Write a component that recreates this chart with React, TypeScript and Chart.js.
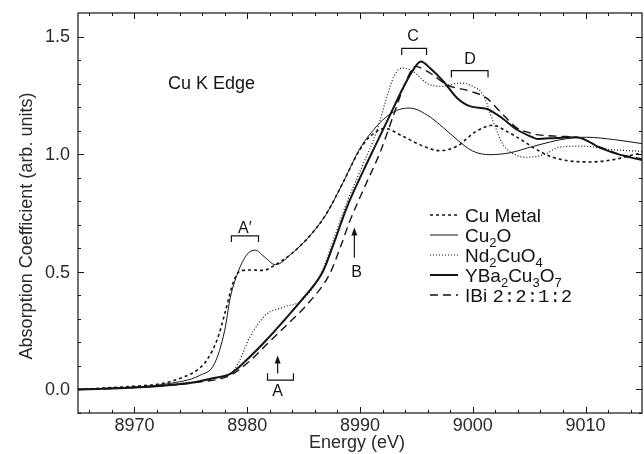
import React, { useEffect, useRef } from "react";
import { Chart, registerables } from "chart.js";

Chart.register(...registerables);

// ---------------- data ----------------
const CU_METAL_E = [8965, 8968, 8970, 8972.3, 8974.3, 8975.5, 8976.4, 8977.4, 8978.0, 8978.8, 8979.4, 8980.3, 8981.4, 8982.5, 8984.0, 8985.5, 8987.0, 8988.5, 8990.0, 8991.0, 8992.2, 8993.8, 8995.6, 8997.1, 8998.6, 9000.3, 9001.8, 9003.0, 9004.5, 9005.4, 9006.8, 9008.3, 9010.4, 9012.5, 9014.3, 9015];
const CU_METAL_V = [0.0, 0.008, 0.014, 0.024, 0.052, 0.08, 0.123, 0.22, 0.32, 0.46, 0.504, 0.508, 0.506, 0.53, 0.58, 0.65, 0.745, 0.88, 1.02, 1.08, 1.109, 1.076, 1.034, 1.015, 1.034, 1.097, 1.123, 1.097, 1.055, 1.027, 0.992, 0.973, 0.967, 0.977, 0.998, 1.005];

const CU2O_E = [8965, 8968, 8970, 8972.9, 8975.8, 8977.1, 8978.0, 8978.5, 8979.2, 8980.0, 8980.7, 8981.5, 8982.5, 8984.0, 8985.5, 8987.0, 8988.5, 8990.0, 8991.5, 8992.5, 8993.5, 8994.4, 8995.9, 8997.4, 8998.6, 9000.0, 9001.5, 9003.3, 9005.4, 9008.3, 9010.1, 9012.5, 9015];
const CU2O_V = [0.0, 0.006, 0.01, 0.024, 0.06, 0.11, 0.25, 0.39, 0.5, 0.575, 0.592, 0.565, 0.53, 0.58, 0.65, 0.745, 0.88, 1.025, 1.12, 1.165, 1.19, 1.196, 1.168, 1.112, 1.062, 1.013, 0.998, 1.006, 1.034, 1.066, 1.072, 1.062, 1.045];

const ND2CUO4_E = [8965, 8968, 8970, 8973, 8975.5, 8977, 8978.5, 8979.3, 8980.2, 8981.0, 8981.7, 8983.2, 8985.0, 8986.7, 8987.6, 8988.8, 8990.3, 8991.5, 8992.3, 8993.0, 8993.7, 8994.7, 8995.9, 8997.1, 8998.9, 9000.0, 9000.9, 9001.8, 9002.7, 9003.9, 9004.8, 9006.3, 9007.7, 9009.8, 9012.2, 9015];
const ND2CUO4_V = [0.0, 0.005, 0.01, 0.02, 0.035, 0.05, 0.066, 0.12, 0.22, 0.28, 0.32, 0.35, 0.384, 0.51, 0.63, 0.79, 0.96, 1.1, 1.23, 1.33, 1.366, 1.352, 1.302, 1.288, 1.302, 1.288, 1.253, 1.14, 1.04, 0.995, 0.987, 0.998, 1.03, 1.034, 1.02, 1.012];

const YBCO_E = [8965, 8968, 8970, 8973, 8975.5, 8977, 8978.5, 8980.2, 8981.7, 8983.2, 8985.0, 8986.7, 8987.6, 8988.8, 8990.3, 8991.5, 8992.7, 8993.8, 8994.6, 8995.4, 8996.2, 8997.4, 8998.6, 8999.8, 9001.2, 9002.4, 9003.9, 9005.1, 9005.7, 9007.4, 9009.2, 9011.3, 9013.0, 9015];
const YBCO_V = [0.0, 0.004, 0.008, 0.018, 0.032, 0.048, 0.066, 0.137, 0.21, 0.29, 0.39, 0.5, 0.61, 0.77, 0.93, 1.05, 1.17, 1.28, 1.35, 1.394, 1.366, 1.309, 1.239, 1.203, 1.193, 1.16, 1.105, 1.076, 1.065, 1.069, 1.072, 1.027, 0.998, 0.975];

const BI2212_E = [8965, 8970, 8975.5, 8978.5, 8980.2, 8981.7, 8983.2, 8985.6, 8987.3, 8988.3, 8989.1, 8990.5, 8991.8, 8993.0, 8994.0, 8994.9, 8996.2, 8997.7, 8999.8, 9001.2, 9002.4, 9003.9, 9005.1, 9005.7, 9007.7, 9009.5, 9011.3, 9013.0, 9015];
const BI2212_V = [0.0, 0.008, 0.03, 0.06, 0.12, 0.19, 0.26, 0.377, 0.49, 0.61, 0.716, 0.87, 1.01, 1.17, 1.3, 1.373, 1.345, 1.295, 1.267, 1.239, 1.182, 1.112, 1.09, 1.083, 1.076, 1.069, 1.03, 1.0, 0.98];

const X_MAJOR = [8970, 8980, 8990, 9000, 9010];
const X_MINOR = [8966, 8968, 8972, 8974, 8976, 8978, 8982, 8984, 8986, 8988, 8992, 8994, 8996, 8998, 9002, 9004, 9006, 9008, 9012, 9014];
const Y_MAJOR = [0.0, 0.5, 1.0, 1.5];
const Y_MINOR = [-0.1, 0.1, 0.2, 0.3, 0.4, 0.6, 0.7, 0.8, 0.9, 1.1, 1.2, 1.3, 1.4];
const Y_TICK_LABELS = ["0.0", "0.5", "1.0", "1.5"];
const X_TICK_LABELS = ["8970", "8980", "8990", "9000", "9010"];

const X_TITLE = "Energy (eV)";
const Y_TITLE = "Absorption Coefficient (arb. units)";

const X_MIN = 8965;
const X_MAX = 9015;
const Y_MIN = -0.1;
const Y_MAX = 1.6;

// ---------------- styles ----------------
const INK = "#141414";
const FAMILY = "'Liberation Sans', Arial, sans-serif";
const LABEL_FONT = `16px ${FAMILY}`;
const LEG_FONT_SIZE = 19;

const zip = (xs: number[], ys: number[]) => xs.map((x, i) => ({ x, y: ys[i] }));

type Seg = { t: string; sub?: boolean; font?: string };

function drawRich(ctx: CanvasRenderingContext2D, segs: Seg[], x: number, y: number, size: number) {
  let cx = x;
  for (const s of segs) {
    const f = s.font ?? `${s.sub ? Math.round(size * 0.68) : size}px ${FAMILY}`;
    ctx.font = f;
    ctx.textBaseline = "alphabetic";
    ctx.textAlign = "left";
    ctx.fillText(s.t, cx, s.sub ? y + size * 0.26 : y);
    cx += ctx.measureText(s.t).width;
  }
}

const LEGEND: { segs: Seg[]; dash: number[]; width: number }[] = [
  { segs: [{ t: "Cu Metal" }], dash: [3, 3], width: 1.6 },
  { segs: [{ t: "Cu" }, { t: "2", sub: true }, { t: "O" }], dash: [], width: 1 },
  { segs: [{ t: "Nd" }, { t: "2", sub: true }, { t: "CuO" }, { t: "4", sub: true }], dash: [1, 2], width: 1.2 },
  { segs: [{ t: "YBa" }, { t: "2", sub: true }, { t: "Cu" }, { t: "3", sub: true }, { t: "O" }, { t: "7", sub: true }], dash: [], width: 2 },
  { segs: [{ t: "IBi " }, { t: "2:2:1:2", font: "19px 'Liberation Mono', 'DejaVu Sans Mono', monospace" }], dash: [8, 5], width: 1.4 },
];

const decorPlugin = {
  id: "decor",
  afterDatasetsDraw(chart: any) {
    const { ctx, chartArea: a, scales } = chart;
    const xs = scales.x;
    const ys = scales.y;
    const X = (v: number) => xs.getPixelForValue(v);
    const Y = (v: number) => ys.getPixelForValue(v);
    ctx.save();
    ctx.strokeStyle = INK;
    ctx.fillStyle = INK;
    ctx.setLineDash([]);

    // frame
    ctx.lineWidth = 1.2;
    ctx.strokeRect(a.left, a.top, a.right - a.left, a.bottom - a.top);

    // inward ticks on all four sides
    ctx.lineWidth = 1;
    const tick = (v: number, len: number, axis: "x" | "y") => {
      ctx.beginPath();
      if (axis === "x") {
        const p = Math.round(X(v)) + 0.5;
        ctx.moveTo(p, a.bottom); ctx.lineTo(p, a.bottom - len);
        ctx.moveTo(p, a.top); ctx.lineTo(p, a.top + len);
      } else {
        const p = Math.round(Y(v)) + 0.5;
        ctx.moveTo(a.left, p); ctx.lineTo(a.left + len, p);
        ctx.moveTo(a.right, p); ctx.lineTo(a.right - len, p);
      }
      ctx.stroke();
    };
    X_MAJOR.forEach((v) => tick(v, 6, "x"));
    X_MINOR.forEach((v) => tick(v, 3, "x"));
    Y_MAJOR.forEach((v) => tick(v, 6, "y"));
    Y_MINOR.forEach((v) => tick(v, 3, "y"));

    // tick labels
    ctx.fillStyle = "#2a2a2a";
    ctx.font = `18px ${FAMILY}`;
    ctx.textAlign = "center";
    ctx.textBaseline = "middle";
    X_MAJOR.forEach((v, i) => ctx.fillText(X_TICK_LABELS[i], X(v), a.bottom + 13));
    ctx.textAlign = "right";
    Y_MAJOR.forEach((v, i) => ctx.fillText(Y_TICK_LABELS[i], a.left - 8, Y(v) + 1));

    // axis titles
    ctx.textAlign = "center";
    ctx.fillText(X_TITLE, (a.left + a.right) / 2 - 3, a.bottom + 30);
    ctx.save();
    ctx.translate(27, (a.top + a.bottom) / 2 + 13);
    ctx.rotate(-Math.PI / 2);
    ctx.fillText(Y_TITLE, 0, 0);
    ctx.restore();
    ctx.fillStyle = INK;

    // title text
    ctx.font = `18px ${FAMILY}`;
    ctx.textAlign = "right";
    ctx.textBaseline = "middle";
    ctx.fillText("Cu K Edge", X(8980.7), Y(1.3));

    ctx.lineWidth = 1.2;
    const bracketDown = (e1: number, e2: number, vTop: number, vLeg: number) => {
      ctx.beginPath();
      ctx.moveTo(X(e1), Y(vLeg));
      ctx.lineTo(X(e1), Y(vTop));
      ctx.lineTo(X(e2), Y(vTop));
      ctx.lineTo(X(e2), Y(vLeg));
      ctx.stroke();
    };
    const arrowUp = (e: number, vTail: number, vHead: number) => {
      const x = X(e);
      const yh = Y(vHead);
      ctx.beginPath();
      ctx.moveTo(x, Y(vTail));
      ctx.lineTo(x, yh + 6);
      ctx.stroke();
      ctx.beginPath();
      ctx.moveTo(x, yh);
      ctx.lineTo(x - 3, yh + 8);
      ctx.lineTo(x + 3, yh + 8);
      ctx.closePath();
      ctx.fill();
    };
    const label = (t: string, e: number, v: number) => {
      ctx.font = LABEL_FONT;
      ctx.textAlign = "center";
      ctx.textBaseline = "middle";
      ctx.fillText(t, X(e), Y(v));
    };

    // A'
    bracketDown(8978.6, 8981.0, 0.653, 0.627);
    label("A\u2032", 8979.8, 0.684);
    // A
    arrowUp(8982.7, 0.068, 0.144);
    ctx.beginPath();
    ctx.moveTo(X(8981.8), Y(0.069));
    ctx.lineTo(X(8981.8), Y(0.04));
    ctx.lineTo(X(8984.1), Y(0.04));
    ctx.lineTo(X(8984.1), Y(0.069));
    ctx.stroke();
    label("A", 8982.7, -0.008);
    // B
    arrowUp(8989.5, 0.56, 0.688);
    label("B", 8989.7, 0.497);
    // C
    bracketDown(8993.7, 8995.9, 1.45, 1.422);
    label("C", 8994.7, 1.5);
    // D
    bracketDown(8998.1, 9001.35, 1.355, 1.326);
    label("D", 8999.75, 1.401);

    // legend
    const lx0 = 430, lx1 = 458, tx = 465;
    LEGEND.forEach((item, i) => {
      const yc = 215 + i * 20;
      ctx.setLineDash(item.dash);
      ctx.lineWidth = item.width;
      ctx.beginPath();
      ctx.moveTo(lx0, yc);
      ctx.lineTo(lx1, yc);
      ctx.stroke();
      ctx.setLineDash([]);
      drawRich(ctx, item.segs, tx, yc + 7, LEG_FONT_SIZE);
    });

    ctx.restore();
  },
};

export default function App() {
  const ref = useRef<HTMLCanvasElement | null>(null);

  useEffect(() => {
    if (!ref.current) return;
    const common = { pointRadius: 0, borderColor: INK, fill: false, cubicInterpolationMode: "monotone" as const };
    const chart = new Chart(ref.current, {
      type: "line",
      data: {
        datasets: [
          { label: "Cu Metal", data: zip(CU_METAL_E, CU_METAL_V), borderWidth: 1.6, borderDash: [3, 3], ...common },
          { label: "Cu2O", data: zip(CU2O_E, CU2O_V), borderWidth: 1, ...common },
          { label: "Nd2CuO4", data: zip(ND2CUO4_E, ND2CUO4_V), borderWidth: 1.2, borderDash: [1, 2], ...common },
          { label: "YBa2Cu3O7", data: zip(YBCO_E, YBCO_V), borderWidth: 2, ...common },
          { label: "Bi 2:2:1:2", data: zip(BI2212_E, BI2212_V), borderWidth: 1.4, borderDash: [8, 5], ...common },
        ],
      },
      options: {
        animation: false,
        responsive: false,
        devicePixelRatio: 1,
        layout: { padding: { top: 13, right: 2, left: 0, bottom: 0 } },
        plugins: { legend: { display: false }, tooltip: { enabled: false } },
        scales: {
          x: {
            type: "linear",
            min: X_MIN,
            max: X_MAX,
            grid: { display: false, drawTicks: false },
            border: { display: false },
            ticks: { display: false },
            title: { display: false },
            afterFit: (s: any) => { s.height = 41; },
          },
          y: {
            type: "linear",
            min: Y_MIN,
            max: Y_MAX,
            grid: { display: false, drawTicks: false },
            border: { display: false },
            ticks: { display: false },
            title: { display: false },
            afterFit: (s: any) => { s.width = 78; },
          },
        },
      },
      plugins: [decorPlugin],
    });
    return () => chart.destroy();
  }, []);

  return (
    <div style={{ position: "fixed", left: 0, top: 0, width: 644, height: 454, background: "#fff" }}>
      <canvas ref={ref} width={644} height={454} style={{ width: 644, height: 454, display: "block" }} />
    </div>
  );
}
